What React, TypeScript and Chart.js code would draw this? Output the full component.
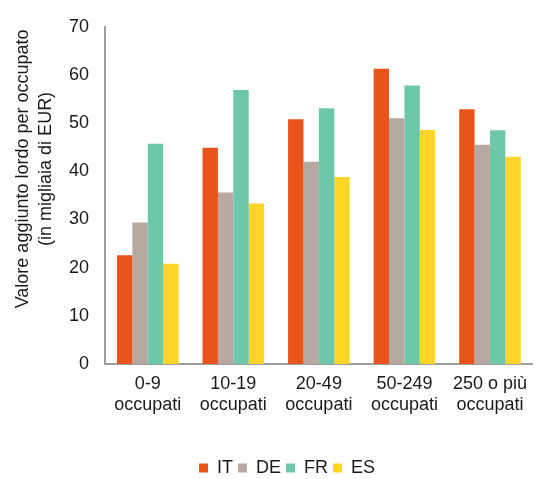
import React, { useEffect, useRef } from "react";
import { Chart, registerables } from "chart.js";

Chart.register(...registerables);

const categories: string[][] = [
  ["0-9", "occupati"],
  ["10-19", "occupati"],
  ["20-49", "occupati"],
  ["50-249", "occupati"],
  ["250 o più", "occupati"],
];
const seriesNames = ["IT", "DE", "FR", "ES"];
const itValues = [22.6, 44.9, 50.8, 61.3, 52.9];
const deValues = [29.4, 35.6, 42.0, 51.0, 45.5];
const frValues = [45.7, 56.9, 53.1, 57.8, 48.5];
const esValues = [20.8, 33.3, 38.8, 48.6, 43.0];
const seriesColors = ["#E8541A", "#B6A9A2", "#6DC8AA", "#FFD528"];
const yTitleLines = ["Valore aggiunto lordo per occupato", "(in migliaia di EUR)"];
const yMin = 0;
const yMax = 70;
const yStep = 10;

const FONT = '"Liberation Sans", Arial, Helvetica, sans-serif';
const TEXT = "#1a1a1a";

const yTitlePlugin = {
  id: "yTitleManual",
  afterDraw(chart: any) {
    const ctx = chart.ctx;
    const area = chart.chartArea;
    const cy = (area.top + area.bottom) / 2 - 26.5;
    const baselines = [28, 50.5];
    ctx.save();
    ctx.font = `18px ${FONT}`;
    ctx.fillStyle = TEXT;
    ctx.textAlign = "center";
    ctx.textBaseline = "alphabetic";
    yTitleLines.forEach((line, i) => {
      ctx.save();
      ctx.translate(baselines[i], cy);
      ctx.rotate(-Math.PI / 2);
      ctx.fillText(line, 0, 0);
      ctx.restore();
    });
    ctx.restore();
  },
};

const legendShiftPlugin = {
  id: "legendShift",
  afterLayout(chart: any) {
    const l = chart.legend;
    if (!l) return;
    l.left += 16;
    l.right += 16;
    l.top += 8;
    l.bottom += 8;
  },
};

export default function App() {
  const ref = useRef<HTMLCanvasElement | null>(null);

  useEffect(() => {
    if (!ref.current) return;
    const valuesList = [itValues, deValues, frValues, esValues];
    const chart = new Chart(ref.current, {
      type: "bar",
      data: {
        labels: categories,
        datasets: seriesNames.map((name, i) => ({
          label: name,
          data: valuesList[i],
          backgroundColor: seriesColors[i],
          borderWidth: 0,
          categoryPercentage: 0.72,
          barPercentage: 1,
        })),
      },
      options: {
        animation: false,
        responsive: true,
        maintainAspectRatio: false,
        layout: { padding: { top: 22, left: 0, right: -5, bottom: 0 } },
        plugins: {
          tooltip: { enabled: false },
          legend: {
            position: "bottom",
            labels: {
              boxWidth: 9,
              boxHeight: 9,
              padding: 5,
              color: TEXT,
              font: { family: FONT, size: 18 },
            },
          },
        },
        scales: {
          x: {
            grid: { display: false, drawTicks: false },
            border: { display: true, color: "#9e9e9e", width: 2 },
            ticks: {
              color: TEXT,
              padding: 10,
              maxRotation: 0,
              autoSkip: false,
              font: { family: FONT, size: 18, lineHeight: 1.15 },
            },
            afterFit: (scale: any) => {
              scale.height = 82;
            },
          },
          y: {
            min: yMin,
            max: yMax,
            grid: { display: false, drawTicks: false },
            border: { display: true, color: "#9e9e9e", width: 2 },
            ticks: {
              stepSize: yStep,
              color: TEXT,
              padding: 16,
              font: { family: FONT, size: 18 },
            },
            afterFit: (scale: any) => {
              scale.width = 105;
            },
          },
        },
      },
      plugins: [yTitlePlugin, legendShiftPlugin],
    });
    return () => chart.destroy();
  }, []);

  return (
    <div style={{ position: "absolute", left: 0, top: 0, width: 537, height: 479, background: "#fff" }}>
      <canvas ref={ref} />
    </div>
  );
}
